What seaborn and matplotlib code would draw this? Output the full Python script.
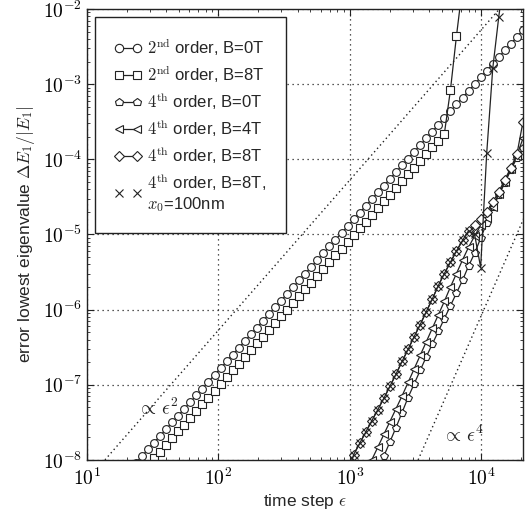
import numpy as np
import matplotlib
matplotlib.use("Agg")
import matplotlib.pyplot as plt
import seaborn as sns
from matplotlib.lines import Line2D
from matplotlib.ticker import LogLocator, FuncFormatter, NullFormatter

sns.set_style("ticks")
plt.rcParams['font.family'] = ['Liberation Sans', 'DejaVu Sans']
plt.rcParams['mathtext.fontset'] = 'cm'

# ---- data (log10 of time step and log10 of relative error) ----
log_step = [1.372, 1.418, 1.464, 1.510, 1.556, 1.602, 1.648, 1.694, 1.740, 1.786,
            1.832, 1.878, 1.924, 1.970, 2.016, 2.062, 2.108, 2.154, 2.200, 2.246,
            2.292, 2.338, 2.384, 2.430, 2.476, 2.522, 2.568, 2.614, 2.660, 2.706,
            2.752, 2.798, 2.844, 2.890, 2.936, 2.982, 3.028, 3.074, 3.120, 3.166,
            3.212, 3.258, 3.304, 3.350, 3.396, 3.442, 3.488, 3.534, 3.580, 3.626,
            3.672, 3.718, 3.764, 3.810, 3.856, 3.902, 3.948, 3.994, 4.040, 4.086,
            4.132, 4.178, 4.224, 4.270, 4.316]

N = None
err_2nd_B0 = [-8.04, -7.95, -7.86, -7.77, -7.68, -7.59, -7.50, -7.41, -7.32, -7.23,
              -7.14, -7.05, -6.96, -6.87, -6.78, -6.69, -6.60, -6.51, -6.42, -6.33,
              -6.24, -6.15, -6.06, -5.97, -5.88, -5.79, -5.70, -5.61, -5.52, -5.43,
              -5.34, -5.25, -5.16, -5.07, -4.98, -4.89, -4.80, -4.71, -4.62, -4.53,
              -4.44, -4.35, -4.26, -4.17, -4.08, -3.99, -3.90, -3.81, -3.72, -3.63,
              -3.54, -3.45, -3.36, -3.27, -3.18, -3.09, -3.00, -2.91, -2.82, -2.73,
              -2.64, -2.55, -2.46, -2.37, -2.28]

err_2nd_B8 = [N, N, -8.07, -7.98, -7.89, -7.80, -7.71, -7.62, -7.53, -7.44,
              -7.35, -7.26, -7.17, -7.08, -6.99, -6.90, -6.81, -6.72, -6.63, -6.54,
              -6.45, -6.36, -6.27, -6.18, -6.09, -6.00, -5.91, -5.82, -5.73, -5.64,
              -5.55, -5.46, -5.37, -5.28, -5.19, -5.10, -5.01, -4.92, -4.83, -4.74,
              -4.65, -4.56, -4.47, -4.38, -4.29, -4.20, -4.11, -4.02, -3.93, -3.84,
              -3.75, -3.66, -3.08, -2.36, -1.70, N, N, N, N, N,
              N, N, N, N, N]

err_4th_B0 = [N] * 40 + [-8.15, -7.95, -7.76, -7.57, -7.37, -7.17, -6.99, -6.81, -6.63, -6.46,
                         -6.29, -6.12, -5.95, -5.78, -5.61, -5.42, -5.25, -5.05, -4.85, -4.64,
                         -4.48, -4.31, -4.14, -3.98, -3.85]

err_4th_B4 = [N] * 38 + [-8.20, -8.00, -7.83, -7.66, -7.49, -7.32, -7.15, -6.97, -6.79, -6.61,
                         -6.43, -6.25, -6.07, -5.89, -5.70, -5.52, -5.34, -5.17, -5.02, -4.88,
                         -4.78, -4.63, -4.46, -4.30, -4.13, -3.95, -3.72]

err_4th_B8 = [N] * 35 + [-8.20, -7.93, -7.78, -7.63, -7.48, -7.33, -7.18, -7.02, -6.86, -6.69,
                         -6.53, -6.36, -6.20, -6.03, -5.86, -5.68, -5.52, -5.37, -5.22, -5.08,
                         -4.95, -4.88, -4.80, -4.70, -4.57, -4.43, -4.27, -4.11, -3.93, -3.50]

err_4th_B8_x0 = [N] * 35 + [-8.20, -7.93, -7.78, -7.63, -7.48, -7.33, -7.18, -7.02, -6.86, -6.69,
                            -6.53, -6.36, -6.20, -6.03, -5.86, -5.68, -5.52, -5.37, -5.22, -5.08,
                            -4.95, -5.00, -5.44, -3.92, -2.79, -2.10, -1.50, N, N, N]

# reference slopes (endpoints)
ref2_step = [13.7, 13700.0]
ref2_err = [1e-8, 1e-2]
ref4_step = [3300.0, 33000.0]
ref4_err = [1e-8, 1e-4]

labels = [r'$2^{\mathrm{nd}}$ order, B=0T',
          r'$2^{\mathrm{nd}}$ order, B=8T',
          r'$4^{\mathrm{th}}$ order, B=0T',
          r'$4^{\mathrm{th}}$ order, B=4T',
          r'$4^{\mathrm{th}}$ order, B=8T',
          '$4^{\\mathrm{th}}$ order, B=8T,\n$x_0$=100nm']

# ---- figure ----
fig = plt.figure(figsize=(5.27, 5.15), dpi=100)
ax = fig.add_axes([0.165, 0.107, 0.8274, 0.8755])
ax.set_xscale('log')
ax.set_yscale('log')

ink = '#222222'
step = 10 ** np.array(log_step)

series = [
    (err_2nd_B0, 'o', 5.6),
    (err_2nd_B8, 's', 5.2),
    (err_4th_B0, 'p', 5.8),
    (err_4th_B4, '<', 5.6),
    (err_4th_B8, 'D', 4.6),
    (err_4th_B8_x0, 'x', 5.6),
]

# dotted reference lines
sns.lineplot(x=ref2_step, y=ref2_err, ax=ax, color=ink, lw=1.0, ls=(0, (1, 2.2)),
             sort=False, estimator=None, legend=False)
sns.lineplot(x=ref4_step, y=ref4_err, ax=ax, color=ink, lw=1.0, ls=(0, (1, 2.2)),
             sort=False, estimator=None, legend=False)

handles = []
for (vals, mk, ms), lab in zip(series, labels):
    y = np.array([np.nan if v is None else v for v in vals], dtype=float)
    m = np.isfinite(y)
    sns.lineplot(x=step[m], y=10 ** y[m], ax=ax, color=ink, lw=0.9,
                 marker=mk, markersize=ms, markerfacecolor='white',
                 markeredgecolor=ink, markeredgewidth=0.8,
                 sort=False, estimator=None, legend=False)
    if mk == 'x':
        handles.append(Line2D([], [], color=ink, ls='none', marker=mk, markersize=6,
                              markeredgecolor=ink, markeredgewidth=0.8, label=lab))
    else:
        handles.append(Line2D([], [], color=ink, lw=0.9, marker=mk, markersize=ms + 0.4,
                              markerfacecolor='white', markeredgecolor=ink,
                              markeredgewidth=0.8, label=lab))

ax.set_xlim(10, 10 ** 4.316)
ax.set_ylim(1e-8, 1e-2)

ax.text(10 ** 1.38, 10 ** -7.31, r'$\propto\,\epsilon^2$', fontsize=14, color=ink,
        ha='left', va='center')
ax.text(10 ** 3.70, 10 ** -7.68, r'$\propto\,\epsilon^4$', fontsize=14, color=ink,
        ha='left', va='center')

# ticks & grid
ax.xaxis.set_major_locator(LogLocator(base=10, numticks=10))
ax.yaxis.set_major_locator(LogLocator(base=10, numticks=10))
ax.xaxis.set_minor_locator(LogLocator(base=10, subs=np.arange(2, 10), numticks=20))
ax.yaxis.set_minor_locator(LogLocator(base=10, subs=np.arange(2, 10), numticks=20))
fmt = FuncFormatter(lambda v, p: r'$10^{%d}$' % int(round(np.log10(v))))
ax.xaxis.set_major_formatter(fmt)
ax.yaxis.set_major_formatter(fmt)
ax.xaxis.set_minor_formatter(NullFormatter())
ax.yaxis.set_minor_formatter(NullFormatter())
ax.tick_params(which='both', direction='in', top=True, right=True, color=ink,
               labelsize=14, labelcolor='black')
ax.tick_params(axis='x', which='major', pad=6)
ax.tick_params(which='major', length=5, width=0.8)
ax.tick_params(which='minor', length=2.5, width=0.6)
ax.grid(True, which='major', ls=(0, (1, 3)), color=ink, lw=0.9)
for s in ax.spines.values():
    s.set_color(ink)
    s.set_linewidth(1.0)

ax.set_xlabel(r'time step $\epsilon$', fontsize=12.5, labelpad=2)
ax.set_ylabel(r'error lowest eigenvalue $\Delta E_1/|E_1|$', fontsize=12.5, labelpad=4)

leg = ax.legend(handles=handles, loc='upper left', bbox_to_anchor=(0.018, 0.982),
                borderaxespad=0, numpoints=2, handlelength=1.7, handletextpad=0.3,
                labelspacing=0.33, fontsize=12, frameon=True, fancybox=False,
                borderpad=1.15, framealpha=1)
leg.get_frame().set_edgecolor(ink)
leg.get_frame().set_linewidth(1.0)

fig.savefig('out.png', dpi=100)
